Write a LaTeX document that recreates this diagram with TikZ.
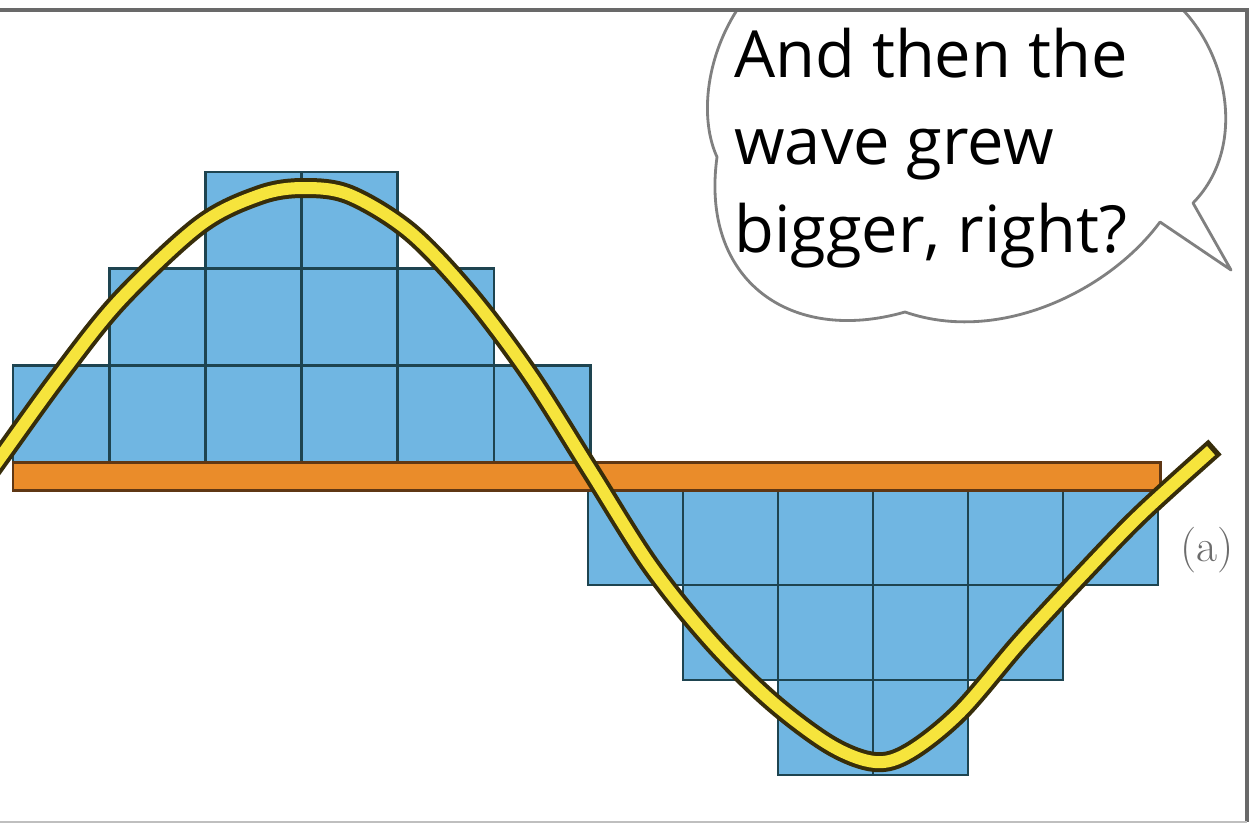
\documentclass[tikz,border=0pt]{standalone}
\usepackage{fontspec}
\newfontfamily\bubblefont{Open Sans}
\definecolor{cellblue}{RGB}{112,182,226}
\definecolor{gridline}{RGB}{30,68,80}
\definecolor{barorange}{RGB}{234,140,42}
\definecolor{barline}{RGB}{95,55,20}
\definecolor{waveyellow}{RGB}{246,228,60}
\definecolor{waveline}{RGB}{55,45,10}
\definecolor{framegray}{RGB}{105,105,105}

\begin{document}
\begin{tikzpicture}[x=0.02cm, y=-0.02cm,
    cell/.style={fill=cellblue, draw=gridline, line width=1.6pt},
    axisbar/.style={fill=barorange, draw=barline, line width=1.7pt},
    waveedge/.style={draw=waveline, line width=0.4cm},
    wavecore/.style={draw=waveyellow, line width=0.24cm},
    bubble/.style={fill=white, draw=gray, line width=1.6pt, line join=round},
    panelframe/.style={draw=framegray, line width=2.2pt}]
    \useasboundingbox[fill=white] (0,0) rectangle (1256,825);
    \clip (0,0) rectangle (1256,825);

    % blocks above the axis
    \foreach \c in {2,3} \draw[cell] ({13+96.2*\c},172) rectangle +(96.2,96.7);
    \foreach \c in {1,...,4} \draw[cell] ({13+96.2*\c},268.7) rectangle +(96.2,96.7);
    \foreach \c in {0,...,5} \draw[cell] ({13+96.2*\c},365.3) rectangle +(96.2,96.7);
    % blocks below the axis
    \foreach \c in {0,...,5} \draw[cell] ({588+95*\c},490) rectangle +(95,95);
    \foreach \c in {1,...,4} \draw[cell] ({588+95*\c},585) rectangle +(95,95);
    \foreach \c in {2,3} \draw[cell] ({588+95*\c},680) rectangle +(95,95);

    \draw[axisbar] (13,462) rectangle (1160,490);

    \draw[waveedge] plot[smooth, tension=0.55] coordinates {(-30,500) (0,458) (60,375) (120,300) (200,225) (260,195) (304,188) (350,195) (410,232) (470,295) (530,375) (590,470) (650,565) (710,640) (770,700) (830,745) (875,762) (910,752) (960,712) (1020,642) (1080,577) (1140,515) (1215,447)};
    \draw[wavecore] plot[smooth, tension=0.55] coordinates {(-30,500) (0,458) (60,375) (120,300) (200,225) (260,195) (304,188) (350,195) (410,232) (470,295) (530,375) (590,470) (650,565) (710,640) (770,700) (830,745) (875,762) (910,752) (960,712) (1020,642) (1080,577) (1140,515) (1211,450.6)};

    \draw[bubble] (1183,10) .. controls (1230,60) and (1245,150) .. (1193,203)
        -- (1231,270) -- (1160,222)
        .. controls (1110,290) and (1000,345) .. (905,312)
        .. controls (790,345) and (700,280) .. (717,157)
        .. controls (700,120) and (705,60) .. (737,10) -- cycle;
    \node[anchor=base west, inner sep=0, align=left, font=\bubblefont\fontsize{37}{49.7}\selectfont] (speech) at (734,252) {And then the\\wave grew\\bigger, right?};

    \node[text=gray!85!black, font=\fontsize{26}{26}\selectfont] (tag) at (1207,550) {(a)};

    \draw[panelframe] (0,10) -- (1247,10) -- (1247,822);
    \draw[draw=gray!50, line width=1.5pt] (0,822) -- (1247,822);
\end{tikzpicture}
\end{document}
